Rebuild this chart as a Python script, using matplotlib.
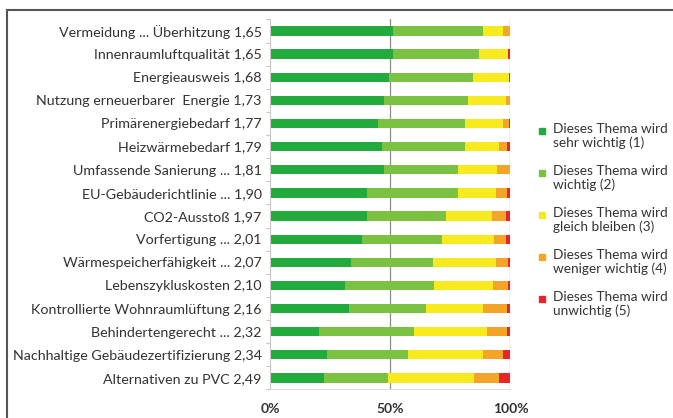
import matplotlib.pyplot as plt
import numpy as np
from matplotlib.lines import Line2D
from matplotlib.patches import Rectangle

plt.rcParams['font.family'] = ['Lato', 'DejaVu Sans']

# Daten (Anteile in %)
themen = [
    'Vermeidung ... Überhitzung 1,65',
    'Innenraumluftqualität 1,65',
    'Energieausweis 1,68',
    'Nutzung erneuerbarer  Energie 1,73',
    'Primärenergiebedarf 1,77',
    'Heizwärmebedarf 1,79',
    'Umfassende Sanierung ... 1,81',
    'EU-Gebäuderichtlinie ... 1,90',
    'CO2-Ausstoß 1,97',
    'Vorfertigung ... 2,01',
    'Wärmespeicherfähigkeit ... 2,07',
    'Lebenszykluskosten 2,10',
    'Kontrollierte Wohnraumlüftung 2,16',
    'Behindertengerecht ... 2,32',
    'Nachhaltige Gebäudezertifizierung 2,34',
    'Alternativen zu PVC 2,49',
]
sehr_wichtig = [51.0, 51.0, 49.6, 47.4, 45.0, 46.4, 47.4, 40.2, 40.5, 38.1, 33.5, 31.2, 33.0, 20.5, 23.6, 22.5]
wichtig = [37.4, 36.0, 34.9, 35.1, 36.0, 34.6, 30.9, 38.1, 32.7, 33.3, 34.4, 37.0, 31.9, 39.4, 33.9, 26.7]
gleich = [8.6, 12.0, 14.9, 15.6, 16.0, 14.3, 16.2, 15.7, 19.0, 21.7, 26.1, 24.6, 23.8, 30.2, 30.9, 35.6]
weniger = [2.7, 0.0, 0.0, 1.9, 2.4, 3.4, 5.5, 4.4, 5.9, 5.0, 5.1, 6.3, 10.0, 8.3, 8.4, 10.5]
unwichtig = [0.3, 1.0, 0.6, 0.0, 0.6, 1.3, 0.0, 1.6, 1.9, 1.9, 0.9, 0.9, 1.3, 1.6, 3.2, 4.7]

legende = [
    'Dieses Thema wird\nsehr wichtig (1)',
    'Dieses Thema wird\nwichtig (2)',
    'Dieses Thema wird\ngleich bleiben (3)',
    'Dieses Thema wird\nweniger wichtig (4)',
    'Dieses Thema wird\nunwichtig (5)',
]
farben = ['#22aa3c', '#7cc242', '#f7ea1f', '#f4a428', '#e8262a']
xticks = [0, 50, 100]
xticklabels = ['0%', '50%', '100%']

fig = plt.figure(figsize=(6.73, 4.18), dpi=100)
ax = fig.add_axes([0.4012, 0.0682, 0.3573, 0.8854])

y = np.arange(len(themen))
links = np.zeros(len(themen))
for werte, farbe in zip([sehr_wichtig, wichtig, gleich, weniger, unwichtig], farben):
    werte = np.array(werte)
    ax.barh(y, werte, left=links, height=0.4, color=farbe, zorder=2)
    links += werte

ax.set_ylim(len(themen) - 0.5, -0.5)
ax.set_xlim(0, 100)

for xv in [50, 100]:
    ax.axvline(xv, color='#8c8c8c', lw=0.9, zorder=1)

ax.set_yticks(y)
ax.set_yticklabels(themen, fontsize=10.3, color='#333333')
ax.set_yticks(np.arange(-0.5, len(themen), 1), minor=True)
ax.tick_params(axis='y', which='major', length=0, pad=6)
ax.tick_params(axis='y', which='minor', length=3, color='#c8c8c8', width=0.8)

ax.set_xticks(xticks)
ax.set_xticklabels(xticklabels, fontsize=10, color='#333333', fontweight='bold')
ax.tick_params(axis='x', length=0, pad=10)

for s in ['top', 'right']:
    ax.spines[s].set_visible(False)
ax.spines['left'].set_color('#c8c8c8')
ax.spines['bottom'].set_color('#dcdcdc')
ax.spines['left'].set_linewidth(0.8)
ax.spines['bottom'].set_linewidth(0.8)

# Legende
W, H = 673, 418
for i, (text, farbe) in enumerate(zip(legende, farben)):
    yc = 131 + 42 * i
    fig.patches.append(Rectangle((539 / W, 1 - (yc + 3) / H), 6 / W, 6 / H,
                                 transform=fig.transFigure, color=farbe))
    fig.text(553 / W, 1 - (yc - 8) / H, text, fontsize=9.8, color='#333333',
             va='top', ha='left', linespacing=1.1)

# Rahmen
fig.add_artist(Line2D([7 / W, 1], [1 - 10 / H, 1 - 10 / H], color='#555555', lw=1.5))
fig.add_artist(Line2D([7 / W, 7 / W], [0, 1 - 10 / H], color='#555555', lw=1.5))

plt.savefig('out.png', dpi=100)
